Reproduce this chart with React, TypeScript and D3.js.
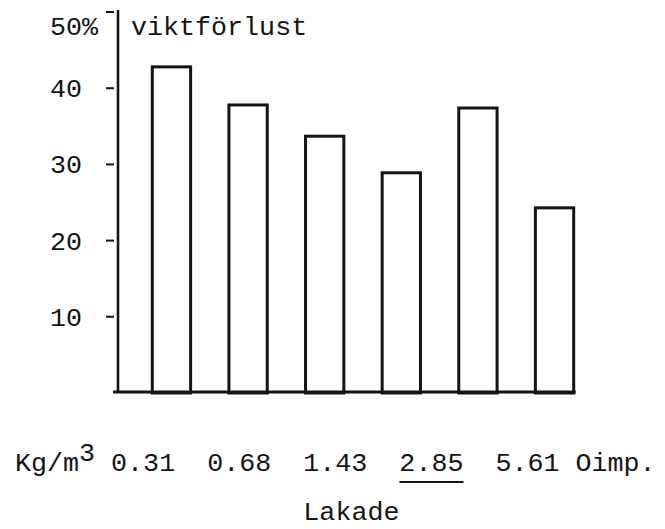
import React from "react";
import * as d3 from "d3";

// ---- data ----
const categories = ["0.31", "0.68", "1.43", "2.85", "5.61", "Oimp."];
const values = [42.8, 37.8, 33.7, 28.9, 37.4, 24.3];
const yTicks = [10, 20, 30, 40, 50];
const yTitle = "viktförlust";
const unitLabel = "Kg/m";
const unitSup = "3";
const xTitle = "Lakade";
const underlinedCategory = "2.85";

const W = 665;
const H = 529;
const FONT = "'Liberation Mono', 'DejaVu Sans Mono', monospace";
const FS = 26.7;
const CH = FS * 0.6; // monospace advance
const INK = "#141414";

export default function App() {
  const y = d3.scaleLinear().domain([0, 50]).range([393, 12]);
  const x = d3
    .scaleBand<string>()
    .domain(categories)
    .range([114, 612])
    .paddingInner(0.5)
    .paddingOuter(0.5);

  const axisX = 118;
  const baseY = y(0);

  // typed line: "Kg/m3 0.31  0.68  1.43  2.85  5.61 Oimp."
  const rest = " " + categories.slice(0, 5).join("  ") + " " + categories[5];
  const lineX = 15;
  const restStart = lineX + (unitLabel.length + unitSup.length) * CH;
  const fullRest = rest;
  const ulIdx = fullRest.indexOf(underlinedCategory);
  const ulX0 = restStart + ulIdx * CH;
  const ulX1 = ulX0 + underlinedCategory.length * CH;
  const lakadeCol = fullRest.indexOf(categories[2]);

  return (
    <svg
      width={W}
      height={H}
      style={{ position: "absolute", left: 0, top: 0, background: "#fff" }}
      xmlns="http://www.w3.org/2000/svg"
    >
      <rect x={0} y={0} width={W} height={H} fill="#fff" />
      {/* y axis */}
      <line x1={axisX} x2={axisX} y1={y(50) - 2} y2={baseY} stroke={INK} strokeWidth={2.6} />
      {/* baseline */}
      <line
        x1={113}
        x2={(x(categories[categories.length - 1]) ?? 0) + x.bandwidth() + 2}
        y1={baseY - 1}
        y2={baseY - 1}
        stroke={INK}
        strokeWidth={3}
      />
      {/* ticks and labels */}
      {yTicks.map((t) => (
        <g key={t}>
          <line x1={106} x2={114} y1={y(t)} y2={y(t)} stroke={INK} strokeWidth={2} />
          <text
            x={50}
            y={t === 50 ? y(t) + 23 : y(t) + 9}
            fontFamily={FONT}
            fontSize={FS}
            fill={INK}
          >
            {t === 50 ? `${t}%` : t}
          </text>
        </g>
      ))}
      <text x={131} y={35} fontFamily={FONT} fontSize={FS} fill={INK}>
        {yTitle}
      </text>
      {/* bars */}
      {categories.map((c, i) => (
        <rect
          key={c}
          x={x(c)}
          y={y(values[i])}
          width={x.bandwidth()}
          height={baseY - y(values[i])}
          fill="none"
          stroke={INK}
          strokeWidth={3}
        />
      ))}
      {/* category line */}
      <text
        x={lineX}
        y={471}
        fontFamily={FONT}
        fontSize={FS}
        fill={INK}
        xmlSpace="preserve"
        style={{ whiteSpace: "pre" }}
      >
        <tspan>{unitLabel}</tspan>
        <tspan dy={-10}>{unitSup}</tspan>
        <tspan dy={10}>{fullRest}</tspan>
      </text>
      <line x1={ulX0} x2={ulX1} y1={482} y2={482} stroke={INK} strokeWidth={2} />
      <text
        x={restStart + lakadeCol * CH}
        y={520}
        fontFamily={FONT}
        fontSize={FS}
        fill={INK}
      >
        {xTitle}
      </text>
    </svg>
  );
}
